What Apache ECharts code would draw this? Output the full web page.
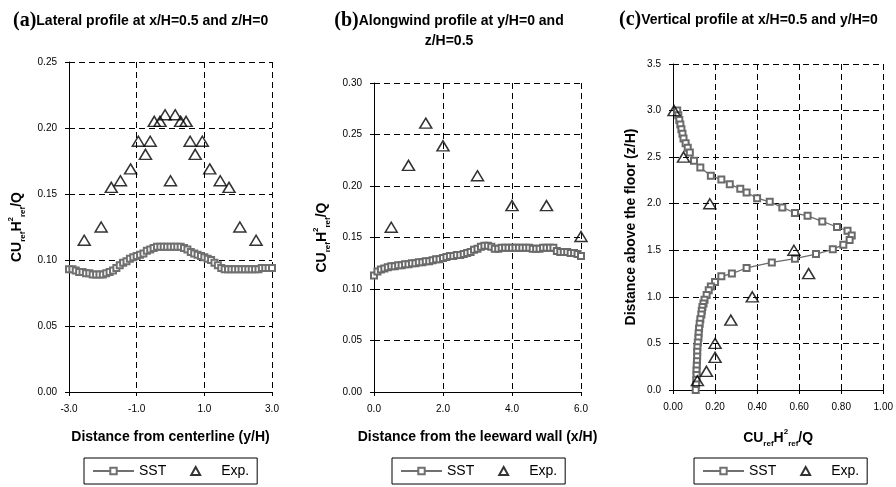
<!DOCTYPE html>
<html><head><meta charset="utf-8">
<script src="https://cdn.jsdelivr.net/npm/echarts@6/dist/echarts.min.js"></script>
<style>html,body{margin:0;padding:0;background:#fff}#c{width:896px;height:487px}</style>
</head><body><div id="c"></div>
<script>
// ---- Panel (a): lateral profile ----
const aSstX = [-3.0,-2.9,-2.8,-2.7,-2.6,-2.5,-2.4,-2.3,-2.2,-2.1,-2.0,-1.9,-1.8,-1.7,-1.6,-1.5,-1.4,-1.3,-1.2,-1.1,-1.0,-0.9,-0.8,-0.7,-0.6,-0.5,-0.4,-0.3,-0.2,-0.1,0.0,0.1,0.2,0.3,0.4,0.5,0.6,0.7,0.8,0.9,1.0,1.1,1.2,1.3,1.4,1.5,1.6,1.7,1.8,1.9,2.0,2.1,2.2,2.3,2.4,2.5,2.6,2.7,2.8,2.9,3.0];
const aSstY = [0.093,0.093,0.092,0.091,0.091,0.090,0.090,0.089,0.089,0.089,0.089,0.090,0.091,0.092,0.094,0.096,0.098,0.099,0.101,0.102,0.103,0.104,0.105,0.107,0.108,0.109,0.110,0.110,0.110,0.110,0.110,0.110,0.110,0.110,0.109,0.108,0.106,0.105,0.104,0.103,0.102,0.101,0.100,0.098,0.096,0.094,0.093,0.093,0.093,0.093,0.093,0.093,0.093,0.093,0.093,0.093,0.093,0.094,0.094,0.094,0.094];
const aExpX = [-2.55,-2.05,-1.75,-1.48,-1.18,-0.95,-0.74,-0.60,-0.48,-0.31,-0.16,0.0,0.14,0.30,0.46,0.58,0.73,0.94,1.16,1.47,1.73,2.05,2.53];
const aExpY = [0.115,0.125,0.155,0.160,0.169,0.190,0.180,0.190,0.205,0.205,0.210,0.160,0.210,0.205,0.205,0.190,0.180,0.190,0.169,0.160,0.155,0.125,0.115];

// ---- Panel (b): alongwind profile ----
const bSstX = [0.0,0.1,0.2,0.3,0.4,0.5,0.6,0.7,0.8,0.9,1.0,1.1,1.2,1.3,1.4,1.5,1.6,1.7,1.8,1.9,2.0,2.1,2.2,2.3,2.4,2.5,2.6,2.7,2.8,2.9,3.0,3.1,3.2,3.3,3.4,3.5,3.6,3.7,3.8,3.9,4.0,4.1,4.2,4.3,4.4,4.5,4.6,4.7,4.8,4.9,5.0,5.1,5.2,5.3,5.4,5.5,5.6,5.7,5.8,5.9,6.0];
const bSstY = [0.113,0.117,0.119,0.120,0.121,0.122,0.122,0.123,0.123,0.124,0.124,0.125,0.125,0.126,0.126,0.127,0.127,0.128,0.129,0.129,0.130,0.131,0.132,0.132,0.133,0.133,0.134,0.135,0.136,0.138,0.139,0.141,0.142,0.142,0.141,0.139,0.139,0.140,0.140,0.140,0.140,0.140,0.140,0.140,0.140,0.140,0.139,0.139,0.139,0.140,0.140,0.140,0.140,0.137,0.136,0.136,0.136,0.135,0.135,0.134,0.132];
const bExpX = [0.5,1.0,1.5,2.0,3.0,4.0,5.0,6.0];
const bExpY = [0.160,0.220,0.261,0.239,0.210,0.181,0.181,0.151];

// ---- Panel (c): vertical profile ----
const cSstC = [0.02,0.025,0.03,0.035,0.04,0.045,0.05,0.06,0.07,0.08,0.10,0.13,0.18,0.23,0.27,0.32,0.35,0.40,0.46,0.52,0.58,0.64,0.71,0.78,0.83,0.85,0.84,0.81,0.76,0.68,0.58,0.47,0.35,0.28,0.23,0.20,0.18,0.17,0.16,0.15,0.145,0.14,0.137,0.135,0.13,0.127,0.124,0.122,0.121,0.118,0.116,0.115,0.115,0.114,0.113,0.112,0.112,0.111,0.110,0.108];
const cSstZ = [3.00,2.95,2.90,2.85,2.80,2.75,2.70,2.65,2.60,2.55,2.46,2.39,2.30,2.26,2.21,2.16,2.12,2.06,2.02,1.96,1.90,1.87,1.81,1.75,1.71,1.66,1.61,1.56,1.51,1.46,1.41,1.37,1.31,1.25,1.22,1.16,1.11,1.07,1.02,0.97,0.93,0.89,0.85,0.81,0.76,0.71,0.66,0.61,0.56,0.51,0.46,0.41,0.36,0.31,0.26,0.21,0.16,0.11,0.06,0.00];
const cExpC = [0.005,0.05,0.175,0.575,0.645,0.377,0.275,0.20,0.20,0.159,0.116];
const cExpZ = [3.0,2.5,2.0,1.5,1.25,1.0,0.75,0.5,0.35,0.2,0.1];

const seriesNames = ['SST','Exp.'];
const titles = ['Lateral profile at x/H=0.5 and z/H=0','Alongwind profile at y/H=0 and','z/H=0.5','Vertical profile at x/H=0.5 and y/H=0'];

const zip = (a,b) => a.map((v,i)=>[v,b[i]]);
const FONT = '"Liberation Sans", Arial, sans-serif';
const dash = {show:true, lineStyle:{color:'#000', type:[6,4], width:1}};
const axLine = {show:true, onZero:false, lineStyle:{color:'#000', width:1}};
const tick = {show:true, length:4, lineStyle:{color:'#000'}};
const lbl = (fmt) => ({color:'#000', fontSize:10, fontFamily:FONT, formatter: fmt, margin:12});
const nameRich = {
  a:{fontSize:14, fontWeight:'bold', fontFamily:FONT, color:'#000', lineHeight:20, verticalAlign:'middle'},
  s:{fontSize:8, fontWeight:'bold', fontFamily:FONT, color:'#000', lineHeight:20, verticalAlign:'bottom'},
  p:{fontSize:8, fontWeight:'bold', fontFamily:FONT, color:'#000', lineHeight:20, verticalAlign:'top'}
};
const cuName = '{a|CU}{s|ref}{a|H}{p|2}{s|ref}{a|/Q}';
const plainName = {fontSize:14, fontWeight:'bold', fontFamily:FONT, color:'#000'};

const sstStyle = (xi, data, col) => ({
  name: seriesNames[0], type:'line', xAxisIndex:xi, yAxisIndex:xi, data,
  symbol:'emptyRect', symbolSize:6, showSymbol:true,
  itemStyle:{color:col, borderWidth:1.2}, lineStyle:{color:col, width:1.3}, z:2, animation:false
});
const expStyle = (xi, data) => ({
  name: seriesNames[1], type:'scatter', xAxisIndex:xi, yAxisIndex:xi, data,
  symbol:'triangle', symbolSize:[12,10],
  itemStyle:{color:'rgba(0,0,0,0)', borderColor:'#000', borderWidth:1.5}, z:3, animation:false
});
const titleRich = {
  p:{fontSize:20, fontWeight:'bold', fontFamily:'"Liberation Serif", "Times New Roman", serif', color:'#000', lineHeight:22},
  t:{fontSize:14, fontWeight:'bold', fontFamily:FONT, color:'#000', lineHeight:19}
};
const legendCommon = {
  orient:'horizontal', borderColor:'#000', borderWidth:1, padding:[6,8], itemGap:24,
  itemWidth:41, itemHeight:8, textStyle:{fontSize:14, fontFamily:FONT, color:'#000'},
  data:[{name:seriesNames[0]},{name:seriesNames[1], icon:'path://M5,0L10,9L0,9Z'}],
  selectedMode:false
};

const chart = echarts.init(document.getElementById('c'), null, {renderer:'canvas'});
chart.setOption({
  animation:false,
  backgroundColor:'#fff',
  title:[
    {text:'{p|(a)}{t|'+titles[0]+'}', left:8, top:5, textStyle:{rich:titleRich}},
    {text:'{p|(b)}{t|'+titles[1]+'}\n{t|'+titles[2]+'}', left:444, top:5, textAlign:'center', textStyle:{rich:titleRich, align:'center'}},
    {text:'{p|(c)}{t|'+titles[3]+'}', left:614, top:4, textStyle:{rich:titleRich}}
  ],
  grid:[
    {left:69, top:62, width:203, height:330},
    {left:374, top:83, width:207, height:309},
    {left:673, top:64, width:212, height:326}
  ],
  xAxis:[
    {type:'value', gridIndex:0, min:-3, max:3, interval:2, axisLine:axLine, axisTick:tick, splitLine:dash,
     axisLabel:lbl(v=>v.toFixed(1)), name:'Distance from centerline (y/H)', nameLocation:'middle', nameGap:38, nameTextStyle:plainName},
    {type:'value', gridIndex:1, min:0, max:6, interval:2, axisLine:axLine, axisTick:tick, splitLine:dash,
     axisLabel:lbl(v=>v.toFixed(1)), name:'Distance from the leeward wall (x/H)', nameLocation:'middle', nameGap:38, nameTextStyle:plainName},
    {type:'value', gridIndex:2, min:0, max:1, interval:0.2, axisLine:axLine, axisTick:tick, splitLine:dash,
     axisLabel:lbl(v=>v.toFixed(2)), name:cuName, nameLocation:'middle', nameGap:38, nameTextStyle:{rich:nameRich}}
  ],
  yAxis:[
    {type:'value', gridIndex:0, min:0, max:0.25, interval:0.05, axisLine:axLine, axisTick:tick, splitLine:dash,
     axisLabel:lbl(v=>v.toFixed(2)), name:cuName, nameLocation:'middle', nameGap:42, nameRotate:90, nameTextStyle:{rich:nameRich}},
    {type:'value', gridIndex:1, min:0, max:0.30, interval:0.05, axisLine:axLine, axisTick:tick, splitLine:dash,
     axisLabel:lbl(v=>v.toFixed(2)), name:cuName, nameLocation:'middle', nameGap:42, nameRotate:90, nameTextStyle:{rich:nameRich}},
    {type:'value', gridIndex:2, min:0, max:3.5, interval:0.5, axisLine:axLine, axisTick:tick, splitLine:dash,
     axisLabel:lbl(v=>v.toFixed(1)), name:'Distance above the floor (z/H)', nameLocation:'middle', nameGap:35, nameRotate:90, nameTextStyle:plainName}
  ],
  legend:[
    Object.assign({}, legendCommon, {left:84, top:458}),
    Object.assign({}, legendCommon, {left:392, top:458}),
    Object.assign({}, legendCommon, {left:694, top:458})
  ],
  series:[
    sstStyle(0, zip(aSstX,aSstY), '#707070'),
    expStyle(0, zip(aExpX,aExpY)),
    sstStyle(1, zip(bSstX,bSstY), '#6a6a6a'),
    expStyle(1, zip(bExpX,bExpY)),
    sstStyle(2, zip(cSstC,cSstZ), '#6a6a6a'),
    expStyle(2, zip(cExpC,cExpZ))
  ]
});
</script></body></html>
